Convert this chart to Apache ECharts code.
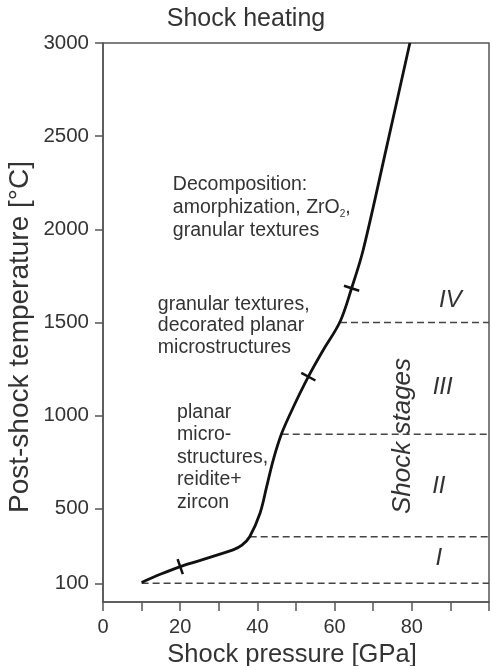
<!DOCTYPE html>
<html>
<head>
<meta charset="utf-8">
<script src="https://cdn.jsdelivr.net/npm/echarts@6/dist/echarts.min.js"></script>
<style>html,body{margin:0;padding:0;background:#fff}#c{width:492px;height:666px}</style>
</head>
<body>
<div id="c"></div>
<script>
// Shock heating curve (pressure GPa, post-shock temperature °C)
const pressure    = [10, 15, 20, 25, 29.5, 33.7, 36, 38, 40.7, 42.4, 44.1, 46.3, 49.2, 53.2, 57, 61.4, 64.4, 67.4, 73.5, 79.5];
const temperature = [105, 150, 190, 222, 252, 280, 305, 350, 478, 619, 762, 905, 1041, 1209, 1350, 1504, 1684, 1889, 2444, 3000];
// cross ticks on curve
const crossPressure = [20, 53.2, 64.4];
const crossTemp     = [190, 1209, 1684];
// shock stage boundaries
const boundaryTemp  = [100, 350, 900, 1500];
const boundaryStart = [10, 38, 46.3, 61.4];
const boundaryEnd   = 100;
// stage labels
const stageNames = ['I', 'II', 'III', 'IV'];
const stageTemp  = [232, 622, 1150, 1618];
const stageX     = [87, 87, 88, 90];
// tick labels
const xTickLabels = [0, 20, 40, 60, 80];
const yTickLabels = [100, 500, 1000, 1500, 2000, 2500, 3000];

const textColor = '#333';
const font = 'Liberation Sans, Arial, sans-serif';

const chart = echarts.init(document.getElementById('c'));

const boundarySeries = boundaryTemp.map((t, i) => ({
  type: 'line',
  data: [[boundaryStart[i], t], [boundaryEnd, t]],
  symbol: 'none',
  silent: true,
  lineStyle: { color: '#444', width: 1.5, type: [7, 4] },
  z: 2
}));

const annotations = [
  { value: [18.1, 2300], text: 'Decomposition:\n{n|amorphization, ZrO}{s|2}{n|,}\ngranular textures', lh: 23 },
  { value: [14.2, 1655], text: 'granular textures,\ndecorated planar\nmicrostructures', lh: 21.5 },
  { value: [19.2, 1079], text: 'planar\nmicro-\nstructures,\nreidite+\nzircon', lh: 22.5 }
];

chart.setOption({
  animation: false,
  backgroundColor: '#fff',
  title: {
    text: 'Shock heating',
    left: 'center',
    top: 7,
    padding: 0,
    textStyle: { fontFamily: font, fontSize: 25, fontWeight: 'normal', color: textColor }
  },
  grid: {
    left: 103, right: 3, top: 43, bottom: 64,
    outerBoundsMode: 'none', containLabel: false,
    show: true, borderColor: '#555', borderWidth: 1.5, backgroundColor: 'transparent'
  },
  xAxis: {
    type: 'value', min: 0, max: 100, interval: 10,
    name: 'Shock pressure [GPa]', nameLocation: 'middle', nameGap: 36,
    nameTextStyle: { fontFamily: font, fontSize: 25.5, color: textColor, padding: [0, 8, 0, 0] },
    axisLine: { show: true, lineStyle: { color: '#555', width: 1.5 } },
    axisTick: { show: true, length: 9, lineStyle: { color: '#555', width: 1.5 } },
    axisLabel: { customValues: xTickLabels, fontFamily: font, fontSize: 20, color: textColor, margin: 15 },
    splitLine: { show: false }
  },
  yAxis: {
    type: 'value', min: 0, max: 3000,
    axisLine: { show: true, lineStyle: { color: '#555', width: 1.5 } },
    axisTick: { show: true, length: 8, customValues: yTickLabels, lineStyle: { color: '#555', width: 1.5 } },
    axisLabel: { customValues: yTickLabels, formatter: v => String(v), fontFamily: font, fontSize: 20.5, color: textColor, margin: 14 },
    splitLine: { show: false }
  },
  graphic: [{
    type: 'text', x: 20, y: 337, rotation: Math.PI / 2,
    style: { text: 'Post-shock temperature [°C]', fontFamily: font, fontSize: 28, fill: textColor, align: 'center', verticalAlign: 'middle' }
  }],
  series: [
    ...boundarySeries,
    {
      type: 'line',
      data: pressure.map((p, i) => [p, temperature[i]]),
      smooth: 0.35,
      symbol: 'none',
      lineStyle: { color: '#111', width: 2.8 },
      z: 5
    },
    {
      type: 'scatter',
      data: crossPressure.map((p, i) => ({ value: [p, crossTemp[i]], symbolRotate: [19, 62, 72][i] })),
      symbol: 'rect',
      symbolSize: [2.5, 16],
      itemStyle: { color: '#111', opacity: 1 },
      z: 6
    },
    {
      type: 'scatter',
      data: stageNames.map((s, i) => ({ value: [stageX[i], stageTemp[i]], name: s })),
      symbolSize: 0,
      itemStyle: { opacity: 1 },
      label: {
        show: true, position: 'inside', formatter: p => p.name,
        fontFamily: font, fontSize: 24, fontStyle: 'italic', color: textColor
      },
      z: 7
    },
    {
      type: 'scatter',
      data: [{ value: [77.7, 891], name: 'Shock stages' }],
      symbolSize: 0,
      itemStyle: { opacity: 1 },
      label: {
        show: true, position: 'inside', formatter: p => p.name, rotate: 90,
        fontFamily: font, fontSize: 26, fontStyle: 'italic', color: textColor
      },
      z: 7
    },
    {
      type: 'scatter',
      data: annotations.map(a => ({
        value: a.value, name: a.text,
        label: { lineHeight: a.lh }
      })),
      symbolSize: 0,
      itemStyle: { opacity: 1 },
      label: {
        show: true, position: [0, 0], align: 'left', verticalAlign: 'top',
        formatter: p => p.name,
        fontFamily: font, fontSize: 19.5, color: textColor,
        rich: {
          n: { fontFamily: font, fontSize: 19.5, color: textColor },
          s: { fontFamily: font, fontSize: 10, color: textColor, verticalAlign: 'bottom', padding: [10, 0, 0, 0] }
        }
      },
      z: 7
    }
  ]
});
</script>
</body>
</html>
